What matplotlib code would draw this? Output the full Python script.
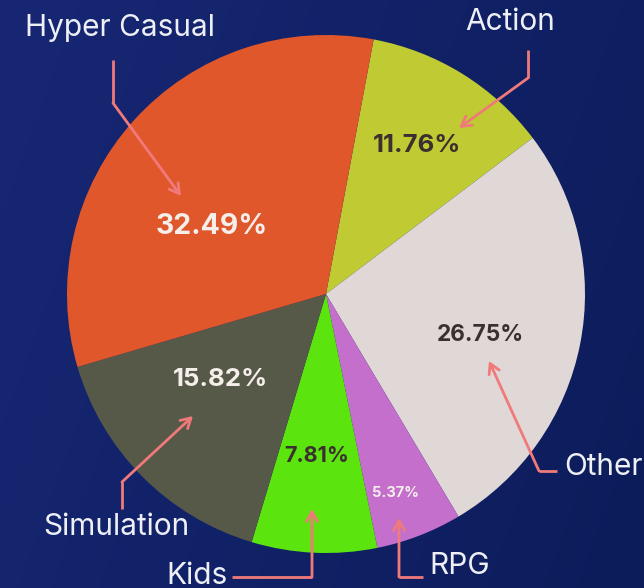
import matplotlib
matplotlib.use('Agg')
import matplotlib.pyplot as plt
import numpy as np

# data (clockwise from top)
genres = ["Action", "Other", "RPG", "Kids", "Simulation", "Hyper Casual"]
shares = [11.76, 26.75, 5.37, 7.81, 15.82, 32.49]
colors = ["#C0CB33", "#E0D8D6", "#C46FCC", "#5CE40F", "#565848", "#DF572B"]
pct_colors = ["#3A3030", "#3A3030", "#F5EEEA", "#3A3030", "#F5EEEA", "#F5EEEA"]

W, H = 644, 588
fig = plt.figure(figsize=(W / 100, H / 100), dpi=100)
ax = fig.add_axes([0, 0, 1, 1])

# background gradient
xx, yy = np.meshgrid(np.linspace(0, 1, 200), np.linspace(0, 1, 200))
t = np.clip(0.75 * xx + 0.25 * yy, 0, 1)
c0 = np.array([0x17, 0x27, 0x74]) / 255
c1 = np.array([0x0c, 0x1c, 0x5a]) / 255
bg = c0[None, None, :] * (1 - t[..., None]) + c1[None, None, :] * t[..., None]
ax.imshow(bg, extent=[0, W, 0, H], origin='upper', zorder=0, aspect='auto')

def P(x, y):
    return (x, H - y)

cx, cy = P(326, 294)
ax.pie(shares, colors=colors, startangle=79.4, counterclock=False,
       center=(cx, cy), radius=259, frame=True,
       wedgeprops=dict(linewidth=0), normalize=True)

ax.set_xlim(0, W)
ax.set_ylim(0, H)
ax.set_aspect('equal')
ax.axis('off')

font = "Inter"
pct_pos = {"Hyper Casual": (212, 226, 20.5), "Action": (417, 146, 18.5),
           "Other": (480, 335, 16.3), "Simulation": (221, 380, 18.6),
           "Kids": (317, 456, 15.5), "RPG": (396, 493, 10.5)}
for g, s, pc in zip(genres, shares, pct_colors):
    x, y, fs = pct_pos[g]
    ax.text(*P(x, y), f"{s:.2f}%", ha='center', va='center', fontsize=fs,
            fontweight='bold', color=pc, family=font, zorder=5)

arrow_col = "#F07A7A"
# label text, anchor, alignment, arrow path (pixel coords)
labels = {
    "Hyper Casual": ((120, 28), 'center', [(113, 60), (113, 103), (181, 196)]),
    "Action": ((510, 22), 'center', [(528, 50), (528, 78), (459, 128)]),
    "Other": ((564, 467), 'left', [(557, 471), (539, 471), (489, 361)]),
    "RPG": ((429, 566), 'left', [(423, 577), (399, 577), (399, 518)]),
    "Kids": ((197, 576), 'center', [(232, 577), (312, 577), (312, 509)]),
    "Simulation": ((116, 527), 'center', [(122, 509), (122, 482), (193, 416)]),
}
for g, (tp, ha, path) in labels.items():
    ax.text(*P(*tp), g, ha=ha, va='center', fontsize=21.5, color="#EEF0F6",
            family=font, zorder=6)
    pts = [P(*p) for p in path]
    ax.plot([pts[0][0], pts[1][0]], [pts[0][1], pts[1][1]], color=arrow_col,
            lw=2, solid_capstyle='butt', zorder=6)
    ax.annotate("", xy=pts[2], xytext=pts[1],
                arrowprops=dict(arrowstyle="->,head_length=0.7,head_width=0.4",
                                color=arrow_col, lw=2, shrinkA=0, shrinkB=0),
                zorder=6)

fig.savefig("out.png", dpi=100)
